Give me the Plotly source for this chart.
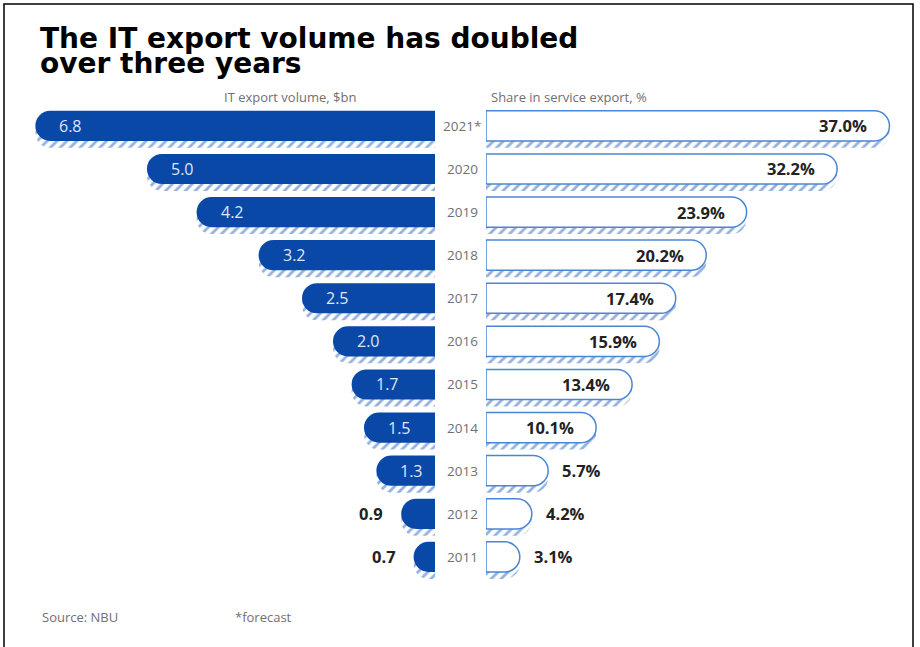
import plotly.graph_objects as go

# Data
years = ["2021*", "2020", "2019", "2018", "2017", "2016", "2015", "2014", "2013", "2012", "2011"]
export_bn = [6.8, 5.0, 4.2, 3.2, 2.5, 2.0, 1.7, 1.5, 1.3, 0.9, 0.7]
share_pct = [37.0, 32.2, 23.9, 20.2, 17.4, 15.9, 13.4, 10.1, 5.7, 4.2, 3.1]
export_labels = [f"{v:.1f}" for v in export_bn]
share_labels = [f"{v:.1f}%" for v in share_pct]

W, H = 920, 647
BLUE = "#0a48a8"
OUTLINE = "#4a86d4"
HATCH = "#2a64bc"
GREY = "#707070"
DARK = "#222222"
FONT = "Open Sans"

rows = list(range(len(years)))
BAR_W = 0.70
SHADOW_SHIFT = 0.16

hatch = dict(shape="/", fgcolor=HATCH, bgcolor="white", size=7, solidity=0.4)

fig = go.Figure()

# Left panel: IT export volume (hatched shadow under each bar, then the solid bar)
fig.add_trace(go.Bar(
    x=export_bn, y=rows, orientation="h", xaxis="x", yaxis="y",
    width=BAR_W, offset=-BAR_W / 2 + SHADOW_SHIFT,
    marker=dict(color="white", cornerradius=15, line=dict(width=0), pattern=hatch),
    hoverinfo="skip", showlegend=False,
))
fig.add_trace(go.Bar(
    x=export_bn, y=rows, orientation="h", xaxis="x", yaxis="y",
    width=BAR_W, offset=-BAR_W / 2,
    marker=dict(color=BLUE, cornerradius=15, line=dict(width=0)),
    hoverinfo="skip", showlegend=False,
))

# Right panel: share in service export
fig.add_trace(go.Bar(
    x=share_pct, y=rows, orientation="h", xaxis="x2", yaxis="y",
    width=BAR_W, offset=-BAR_W / 2 + SHADOW_SHIFT,
    marker=dict(color="white", cornerradius=15, line=dict(width=0), pattern=hatch),
    hoverinfo="skip", showlegend=False,
))
fig.add_trace(go.Bar(
    x=share_pct, y=rows, orientation="h", xaxis="x2", yaxis="y",
    width=BAR_W, offset=-BAR_W / 2,
    marker=dict(color="white", cornerradius=15, line=dict(color=OUTLINE, width=1.5)),
    hoverinfo="skip", showlegend=False,
))

annotations = []

# Year labels in the centre column
for r, yr in zip(rows, years):
    annotations.append(dict(
        x=462 / W, xref="paper", y=r, yref="y", text=yr, showarrow=False,
        xanchor="center", yanchor="middle",
        font=dict(family=FONT, size=13.5, color=GREY),
    ))

# Value labels, left panel
for r, v, lab in zip(rows, export_bn, export_labels):
    if v >= 1.0:
        annotations.append(dict(
            x=v, xref="x", y=r, yref="y", text=lab, showarrow=False,
            xanchor="left", yanchor="middle", xshift=22,
            font=dict(family=FONT, size=16, color="#dfe7f5"),
        ))
    else:
        annotations.append(dict(
            x=v, xref="x", y=r, yref="y", text=f"<b>{lab}</b>", showarrow=False,
            xanchor="right", yanchor="middle", xshift=-16,
            font=dict(family=FONT, size=16.5, color=DARK),
        ))

# Value labels, right panel
for r, v, lab in zip(rows, share_pct, share_labels):
    if v >= 10:
        annotations.append(dict(
            x=v, xref="x2", y=r, yref="y", text=f"<b>{lab}</b>", showarrow=False,
            xanchor="right", yanchor="middle", xshift=-20,
            font=dict(family=FONT, size=16.5, color=DARK),
        ))
    else:
        annotations.append(dict(
            x=v, xref="x2", y=r, yref="y", text=f"<b>{lab}</b>", showarrow=False,
            xanchor="left", yanchor="middle", xshift=12,
            font=dict(family=FONT, size=16.5, color=DARK),
        ))

# Title (two lines)
for txt, ypix in [("The IT export volume has doubled", 39), ("over three years", 63)]:
    annotations.append(dict(
        x=38 / W, xref="paper", y=1 - ypix / H, yref="paper", text=f"<b>{txt}</b>",
        showarrow=False, xanchor="left", yanchor="middle",
        font=dict(family="DejaVu Sans", size=28, color="black"),
    ))

# Panel headings
annotations.append(dict(
    x=290 / W, xref="paper", y=1 - 97 / H, yref="paper", text="IT export volume, $bn",
    showarrow=False, xanchor="center", yanchor="middle",
    font=dict(family=FONT, size=13, color=GREY),
))
annotations.append(dict(
    x=489 / W, xref="paper", y=1 - 97 / H, yref="paper", text="Share in service export, %",
    showarrow=False, xanchor="left", yanchor="middle",
    font=dict(family=FONT, size=13, color=GREY),
))

# Footer
annotations.append(dict(
    x=40 / W, xref="paper", y=1 - 617 / H, yref="paper", text="Source: NBU",
    showarrow=False, xanchor="left", yanchor="middle",
    font=dict(family=FONT, size=13, color=GREY),
))
annotations.append(dict(
    x=233 / W, xref="paper", y=1 - 617 / H, yref="paper", text="*forecast",
    showarrow=False, xanchor="left", yanchor="middle",
    font=dict(family=FONT, size=13, color=GREY),
))

fig.update_layout(
    width=W, height=H,
    margin=dict(l=0, r=0, t=0, b=0),
    paper_bgcolor="white", plot_bgcolor="rgba(0,0,0,0)",
    barmode="overlay",
    xaxis=dict(domain=[0, 435 / W], range=[7.37, 0.355], visible=False, fixedrange=True),
    xaxis2=dict(domain=[486 / W, 1], range=[0, 39.8], visible=False, fixedrange=True, anchor="y"),
    yaxis=dict(domain=[0, 1], range=[12.09, -2.92], visible=False, fixedrange=True),
    annotations=annotations,
    shapes=[dict(
        type="rect", xref="paper", yref="paper",
        x0=4 / W, x1=913 / W, y0=-0.02, y1=1 - 4 / H,
        line=dict(color="black", width=1.5), fillcolor="rgba(0,0,0,0)",
    )],
)

fig.write_html("out.html")
